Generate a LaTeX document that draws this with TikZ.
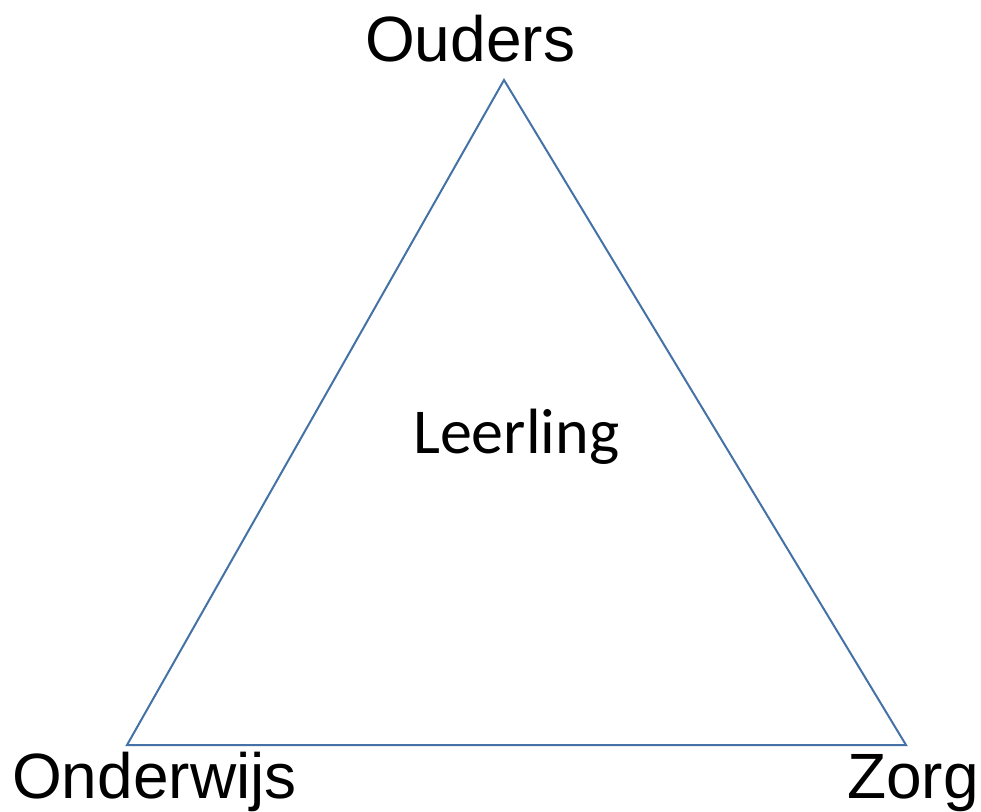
\documentclass[tikz,border=0pt]{standalone}
\usepackage{fontspec}
\setmainfont{Liberation Sans}
\newfontfamily\calfont{Carlito}
\definecolor{edgeblue}{RGB}{68,114,166}
\begin{document}
\begin{tikzpicture}[x=1pt,y=-1pt,
  lbl/.style={anchor=base west,inner sep=0pt,font=\fontsize{64}{70}\selectfont},
  mid/.style={anchor=base west,inner sep=0pt,font=\calfont\fontsize{64}{70}\selectfont},
  edge/.style={draw=edgeblue,line width=2pt,line join=miter}]
\useasboundingbox (0,0) rectangle (981,811);
\coordinate (top) at (504,80);
\coordinate (bl) at (127,745);
\coordinate (br) at (906,745);
\draw[edge] (top) -- (bl) -- (br) -- cycle;
\node[lbl] (ouders) at (365,61) {Ouders};
\node[lbl] (onderwijs) at (12,798) {Onderwijs};
\node[lbl] (zorg) at (847,798) {Zorg};
\node[mid] (leerling) at (413,453) {Leerling};
\end{tikzpicture}
\end{document}
